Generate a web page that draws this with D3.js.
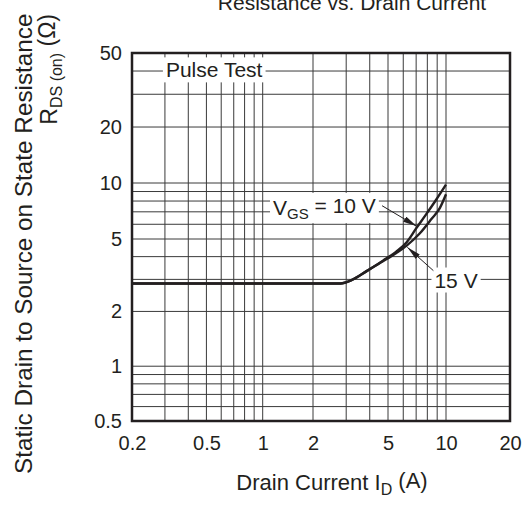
<!DOCTYPE html>
<html>
<head>
<meta charset="utf-8">
<script src="https://cdn.jsdelivr.net/npm/d3@7"></script>
<style>
  body { margin: 0; background: #fff; }
  text { font-family: "Liberation Sans", Arial, Helvetica, sans-serif; fill: #231f20; }
</style>
</head>
<body>
<div id="graph"></div>
<script>
// chart data
const xTicks = [0.2, 0.5, 1, 2, 5, 10, 20];
const yTicks = [0.5, 1, 2, 5, 10, 20, 50];
const xGrid = [0.3, 0.4, 0.5, 0.6, 0.7, 0.8, 0.9, 1, 2, 3, 4, 5, 6, 7, 8, 9, 10];
const yGrid = [0.6, 0.7, 0.8, 0.9, 1, 2, 3, 4, 5, 6, 7, 8, 9, 10, 20, 30, 40];

// drain current (A) and R_DS(on) (ohm) for each gate voltage
const id10 = [0.2, 2.8, 3.2, 3.85, 4.7, 5.5, 6.25, 7.0, 7.9, 8.8, 10];
const rds10 = [2.85, 2.85, 2.97, 3.33, 3.8, 4.25, 4.8, 5.7, 6.8, 8.0, 9.8];
const id15 = [0.2, 2.8, 3.2, 3.85, 4.7, 5.5, 6.25, 7.3, 8.4, 9.3, 10];
const rds15 = [2.85, 2.85, 2.97, 3.33, 3.77, 4.18, 4.6, 5.35, 6.4, 7.35, 8.7];

const width = 528, height = 507;
const margin = {top: 53, right: 18, bottom: 86, left: 132};

const svg = d3.select("#graph").append("svg")
    .attr("width", width)
    .attr("height", height);

// the printed log axes are slightly uneven, so the scale is piecewise
const x = d3.scaleLog()
    .domain([0.2, 1, 2, 5, 10, 20])
    .range([132, 262.7, 313, 388, 446, width - margin.right]);
const y = d3.scaleLog()
    .domain([0.5, 5, 50])
    .range([height - margin.bottom, 239, margin.top]);

// grid
svg.append("g").selectAll("line")
    .data(xGrid)
    .enter().append("line")
    .attr("x1", d => x(d)).attr("x2", d => x(d))
    .attr("y1", y(0.5)).attr("y2", y(50))
    .attr("stroke", "#3a3a3a").attr("stroke-width", 1);
svg.append("g").selectAll("line")
    .data(yGrid)
    .enter().append("line")
    .attr("x1", x(0.2)).attr("x2", x(20))
    .attr("y1", d => y(d)).attr("y2", d => y(d))
    .attr("stroke", "#3a3a3a").attr("stroke-width", 1);

// axes (labels only, frame drawn below)
const xAxis = svg.append("g")
    .attr("transform", "translate(0," + y(0.5) + ")")
    .call(d3.axisBottom(x).tickValues(xTicks).tickSize(0).tickPadding(15)
        .tickFormat(d3.format("~g")));
const yAxis = svg.append("g")
    .attr("transform", "translate(" + x(0.2) + ",0)")
    .call(d3.axisLeft(y).tickValues(yTicks).tickSize(0).tickPadding(10)
        .tickFormat(d3.format("~g")));
[xAxis, yAxis].forEach(a => {
  a.select(".domain").remove();
  a.attr("font-family", null).attr("font-size", 20);
  a.selectAll("text").attr("fill", "#231f20");
});

// curves
const line = d3.line().curve(d3.curveMonotoneX);
const pts10 = id10.map((d, i) => [x(d), y(rds10[i])]);
const pts15 = id15.map((d, i) => [x(d), y(rds15[i])]);
[pts10, pts15].forEach(p => {
  svg.append("path")
      .attr("d", line(p))
      .attr("fill", "none")
      .attr("stroke", "#231f20")
      .attr("stroke-width", 2.4);
});

// frame
svg.append("rect")
    .attr("x", x(0.2)).attr("y", y(50))
    .attr("width", x(20) - x(0.2))
    .attr("height", y(0.5) - y(50))
    .attr("fill", "none")
    .attr("stroke", "#231f20")
    .attr("stroke-width", 2.5);

// arrow head
svg.append("defs").append("marker")
    .attr("id", "arrow")
    .attr("viewBox", "0 0 14 6")
    .attr("refX", 14).attr("refY", 3)
    .attr("markerUnits", "userSpaceOnUse")
    .attr("markerWidth", 14).attr("markerHeight", 6)
    .attr("orient", "auto")
  .append("path")
    .attr("d", "M0,0L14,3L0,6Z")
    .attr("fill", "#231f20");

// labels with white boxes that cut the grid
function boxedLabel(px, py, build, size) {
  const g = svg.append("g");
  const t = g.append("text")
      .attr("x", px).attr("y", py)
      .attr("text-anchor", "middle")
      .attr("dy", "0.35em")
      .style("font-size", size + "px");
  build(t);
  const b = t.node().getBBox();
  g.insert("rect", "text")
      .attr("x", b.x - 3).attr("y", b.y - 1)
      .attr("width", b.width + 6).attr("height", b.height + 2)
      .attr("fill", "#fff");
}

boxedLabel(x(0.55), y(40.5), t => t.text("Pulse Test"), 21);
boxedLabel(x(2.3), y(7.4), t => {
  t.append("tspan").text("V");
  t.append("tspan").attr("dy", "0.3em").style("font-size", "15px").text("GS");
  t.append("tspan").attr("dy", "-0.3em").text(" = 10 V");
}, 21);
boxedLabel(x(11.15), y(2.97), t => t.text("15 V"), 21);

// arrows
svg.append("line")
    .attr("x1", x(4.65)).attr("y1", y(7.55))
    .attr("x2", x(7.05)).attr("y2", y(5.85))
    .attr("stroke", "#231f20").attr("stroke-width", 1)
    .attr("marker-end", "url(#arrow)");
svg.append("line")
    .attr("x1", x(8.6)).attr("y1", y(3.35))
    .attr("x2", x(6.3)).attr("y2", y(4.5))
    .attr("stroke", "#231f20").attr("stroke-width", 1)
    .attr("marker-end", "url(#arrow)");

// title (upper line is cut off in the source)
svg.append("text")
    .attr("x", 352).attr("y", 10)
    .attr("text-anchor", "middle")
    .style("font-size", "21px")
    .text("Resistance vs. Drain Current");

// x axis title
const xl = svg.append("text")
    .attr("x", 332).attr("y", 490)
    .attr("text-anchor", "middle")
    .style("font-size", "22px");
xl.append("tspan").text("Drain Current  I");
xl.append("tspan").attr("dy", "0.3em").style("font-size", "16px").text("D");
xl.append("tspan").attr("dy", "-0.3em").text("  (A)");

// y axis title, two lines
svg.append("text")
    .attr("transform", "translate(32,474) rotate(-90)")
    .attr("text-anchor", "start")
    .style("font-size", "24.3px")
    .text("Static Drain to Source on State Resistance");
const yl = svg.append("text")
    .attr("transform", "translate(57,14) rotate(-90)")
    .attr("text-anchor", "end")
    .style("font-size", "23px");
yl.append("tspan").text("R");
yl.append("tspan").attr("dy", "0.3em").style("font-size", "16px").text("DS (on)");
yl.append("tspan").attr("dy", "-0.3em").text("  (\u03A9)");
</script>
</body>
</html>
